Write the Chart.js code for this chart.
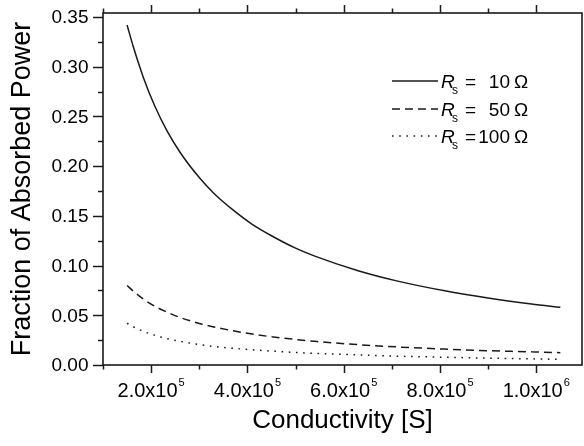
<!DOCTYPE html>
<html lang="en">
<head>
<meta charset="UTF-8">
<title>Fraction of Absorbed Power</title>
<script src="https://cdn.jsdelivr.net/npm/chart.js@4.4.0/dist/chart.umd.min.js"></script>
<style>
  html, body { margin: 0; padding: 0; background: #fff; }
  #wrap { width: 584px; height: 446px; }
</style>
</head>
<body>
<div id="wrap"><canvas id="chart" width="584" height="446"></canvas></div>
<script>
// values
const conductivity = [1.5e5, 1.63e5, 1.84e5, 2.08e5, 2.33e5, 2.6e5, 3.0e5, 3.3e5, 3.7e5, 4.1e5,
                      4.5e5, 5.0e5, 5.4e5, 6.3e5, 7.1e5, 8.1e5, 9.0e5, 9.9e5, 10.5e5];
const rs10  = [0.342, 0.320, 0.289, 0.260, 0.2355, 0.214, 0.1885, 0.1728, 0.156, 0.1415,
               0.130, 0.1175, 0.1095, 0.0948, 0.0846, 0.0746, 0.0674, 0.0614, 0.058];
const rs50  = [0.080, 0.0742, 0.0663, 0.0590, 0.0532, 0.0478, 0.0418, 0.0383, 0.0344, 0.0311,
               0.0284, 0.0257, 0.0238, 0.0205, 0.0182, 0.0160, 0.0144, 0.0132, 0.0124];
const rs100 = [0.042, 0.0385, 0.0338, 0.0298, 0.0265, 0.0238, 0.0205, 0.0186, 0.0168, 0.0153,
               0.0140, 0.0126, 0.0117, 0.0101, 0.0089, 0.0078, 0.0069, 0.0062, 0.0057];
const seriesNames = ['10', '50', '100'];

const yTickValues = [0, 0.05, 0.10, 0.15, 0.20, 0.25, 0.30, 0.35];
const xTickValues = [2e5, 4e5, 6e5, 8e5, 1e6];
const xTickMantissa = ['2.0x10', '4.0x10', '6.0x10', '8.0x10', '1.0x10'];
const xTickExponent = ['5', '5', '5', '5', '6'];

const INK = '#1a1a1a';
const FONT = '"Liberation Sans", Arial, sans-serif';

const toPoints = (ys) => conductivity.map((x, i) => ({ x: x, y: ys[i] }));

const dashes = [[], [8, 5], [1.6, 5.6]];

const frame = {
    id: 'frame',
    afterDraw(chart) {
        const { ctx, chartArea: a, scales: { x, y } } = chart;
        ctx.save();
        ctx.strokeStyle = INK;
        ctx.fillStyle = '#000';
        ctx.lineWidth = 1.6;
        ctx.strokeRect(a.left, a.top, a.right - a.left, a.bottom - a.top);

        // x ticks, bottom and top, every 1e5
        ctx.lineWidth = 1.5;
        for (let v = 1e5; v <= 1.05e6; v += 1e5) {
            const px = Math.round(x.getPixelForValue(v)) + 0.5;
            const major = Math.round(v / 1e5) % 2 === 0;
            const len = major ? 8 : 4.5;
            ctx.beginPath();
            ctx.moveTo(px, a.bottom); ctx.lineTo(px, a.bottom + len);
            ctx.moveTo(px, a.top); ctx.lineTo(px, a.top - len);
            ctx.stroke();
        }
        // y ticks every 0.025
        for (let i = 0; i <= 14; i++) {
            const py = Math.round(y.getPixelForValue(i * 0.025)) + 0.5;
            const len = i % 2 === 0 ? 10 : 5;
            ctx.beginPath();
            ctx.moveTo(a.left, py); ctx.lineTo(a.left - len, py);
            ctx.stroke();
        }

        // y tick labels
        ctx.font = '19px ' + FONT;
        ctx.textAlign = 'right';
        ctx.textBaseline = 'middle';
        yTickValues.forEach(v => {
            ctx.fillText(v.toFixed(2), 88.5, y.getPixelForValue(v) + 1);
        });

        // x tick labels with superscript exponent
        ctx.textBaseline = 'alphabetic';
        ctx.textAlign = 'left';
        xTickValues.forEach((v, i) => {
            ctx.font = '20px ' + FONT;
            const w1 = ctx.measureText(xTickMantissa[i]).width;
            ctx.font = '11px ' + FONT;
            const w2 = ctx.measureText(xTickExponent[i]).width;
            const start = x.getPixelForValue(v) - (w1 + w2 + 1) / 2;
            ctx.font = '20px ' + FONT;
            ctx.fillText(xTickMantissa[i], start, 397);
            ctx.font = '11px ' + FONT;
            ctx.fillText(xTickExponent[i], start + w1 + 1, 386);
        });

        // axis titles
        ctx.font = '26px ' + FONT;
        ctx.textAlign = 'center';
        ctx.fillText('Conductivity [S]', (a.left + a.right) / 2, 428);
        ctx.save();
        ctx.translate(23, (a.top + a.bottom) / 2);
        ctx.rotate(-Math.PI / 2);
        ctx.textBaseline = 'middle';
        ctx.font = '27px ' + FONT;
        ctx.fillText('Fraction of Absorbed Power', 0, 0);
        ctx.restore();

        // legend
        const rows = [81, 109, 136];
        chart.data.datasets.forEach((ds, i) => {
            const ry = rows[i];
            ctx.save();
            ctx.strokeStyle = INK;
            ctx.lineWidth = 1.5;
            ctx.setLineDash(dashes[i]);
            ctx.beginPath();
            ctx.moveTo(392, ry); ctx.lineTo(438, ry);
            ctx.stroke();
            ctx.restore();

            const base = ry + 7;
            ctx.textAlign = 'left';
            ctx.textBaseline = 'alphabetic';
            ctx.font = 'italic 19px ' + FONT;
            ctx.fillText('R', 441, base);
            ctx.font = '12px ' + FONT;
            ctx.fillText('s', 452, base + 6);
            ctx.font = '19px ' + FONT;
            ctx.fillText('=', 465, base);
            ctx.textAlign = 'right';
            ctx.fillText(seriesNames[i], 510, base);
            ctx.textAlign = 'left';
            ctx.fillText('\u03A9', 514, base);
        });
        ctx.restore();
    }
};

new Chart(document.getElementById('chart'), {
    type: 'line',
    data: {
        datasets: [
            { label: 'Rs = 10 Ω', data: toPoints(rs10), borderDash: dashes[0] },
            { label: 'Rs = 50 Ω', data: toPoints(rs50), borderDash: dashes[1] },
            { label: 'Rs = 100 Ω', data: toPoints(rs100), borderDash: dashes[2] }
        ].map(ds => Object.assign(ds, {
            borderColor: INK,
            borderWidth: 1.5,
            pointRadius: 0,
            fill: false,
            cubicInterpolationMode: 'monotone'
        }))
    },
    options: {
        responsive: false,
        animation: false,
        devicePixelRatio: 1,
        layout: { padding: { top: 13, right: 2, left: 0, bottom: 0 } },
        plugins: { legend: { display: false }, tooltip: { enabled: false } },
        scales: {
            x: {
                type: 'linear',
                min: 1e5,
                max: 1.095e6,
                grid: { display: false },
                border: { display: false },
                ticks: { display: false },
                afterFit: (s) => { s.height = 81; }
            },
            y: {
                min: 0,
                max: 0.354,
                grid: { display: false },
                border: { display: false },
                ticks: { display: false },
                afterFit: (s) => { s.width = 103; }
            }
        }
    },
    plugins: [frame]
});
</script>
</body>
</html>
